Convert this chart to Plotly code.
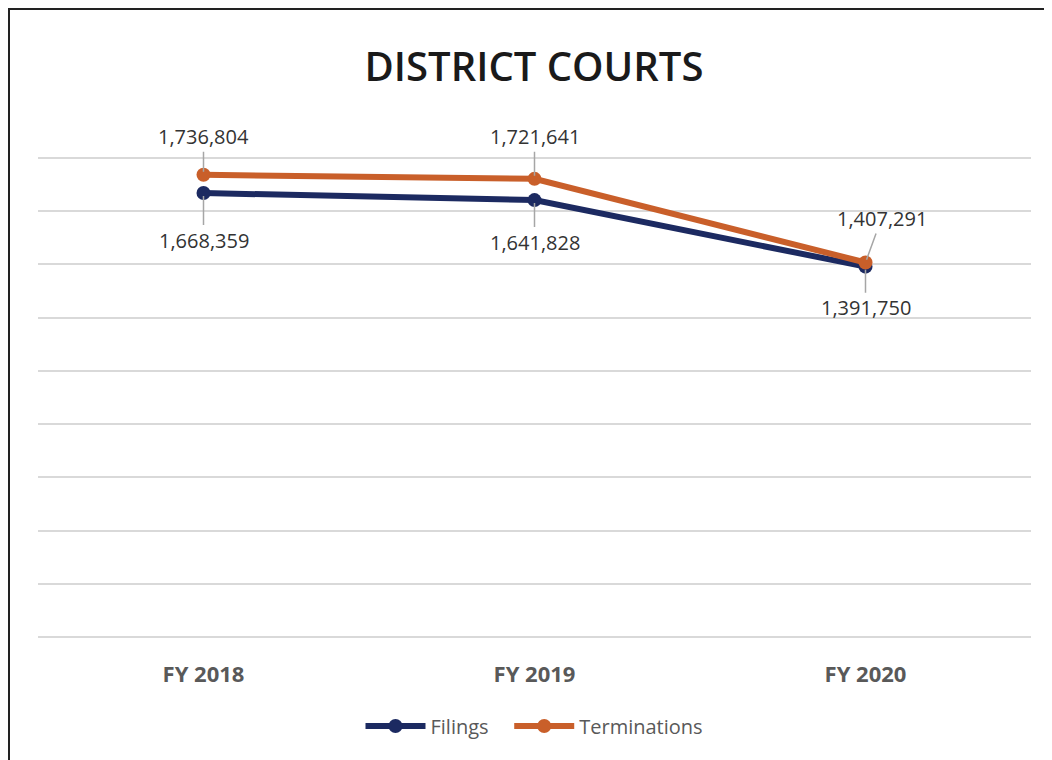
import plotly.graph_objects as go

categories = ["FY 2018", "FY 2019", "FY 2020"]
filings = [1668359, 1641828, 1391750]
terminations = [1736804, 1721641, 1407291]
series_names = ["Filings", "Terminations"]

NAVY = "#1c2a61"
ORANGE = "#c95f2a"
LABEL_FONT = dict(family="Open Sans", size=20, color="#333333")

fig = go.Figure()
fig.add_trace(go.Scatter(x=categories, y=filings, name=series_names[0] + "\u00a0\u00a0\u00a0", mode="lines+markers",
                         line=dict(color=NAVY, width=6), marker=dict(size=14, color=NAVY)))
fig.add_trace(go.Scatter(x=categories, y=terminations, name=series_names[1], mode="lines+markers",
                         line=dict(color=ORANGE, width=6), marker=dict(size=14, color=ORANGE)))

# data labels with leader lines
term_offsets = [(0, -38), (0, -42), (16, -44)]
fil_offsets = [(0, 47), (0, 42), (0, 41)]
for c, v, (ax, ay) in zip(categories, terminations, term_offsets):
    fig.add_annotation(x=c, y=v, text=f"{v:,}", showarrow=True, arrowhead=0, arrowwidth=1.5,
                       arrowcolor="#a6a6a6", ax=ax, ay=ay, standoff=3, font=LABEL_FONT)
for c, v, (ax, ay) in zip(categories, filings, fil_offsets):
    fig.add_annotation(x=c, y=v, text=f"{v:,}", showarrow=True, arrowhead=0, arrowwidth=1.5,
                       arrowcolor="#a6a6a6", ax=ax, ay=ay, standoff=3, font=LABEL_FONT)

Y_MAX = 1830000
plot_h = 479 * Y_MAX / 1800000
top_m = 629 - plot_h

# outer frame
fig.add_shape(type="rect", xref="paper", yref="paper", x0=-29 / 993, x1=1.06, y0=-0.3, y1=628 / plot_h,
              line=dict(color="#222222", width=2), fillcolor="rgba(0,0,0,0)", layer="above")

fig.update_layout(
    width=1052, height=760,
    margin=dict(l=30, r=29, t=top_m, b=131),
    paper_bgcolor="white", plot_bgcolor="white",
    title=dict(text="DISTRICT COURTS", x=0.5, xanchor="center", y=1 - 59 / 760, yanchor="middle",
               yref="container", font=dict(family="Open Sans", size=40, color="#1a1a1a", weight=600)),
    showlegend=True,
    legend=dict(orientation="h", x=0.5, xanchor="center", y=-89 / plot_h, yanchor="middle",
                font=dict(family="Open Sans", size=20, color="#595959"), itemwidth=60),
    xaxis=dict(range=[-0.5, 2.5], showgrid=False, zeroline=False, showline=False, ticks="",
               tickfont=dict(family="Open Sans", size=22, color="#595959", weight=700),
               ticklabelstandoff=22),
    yaxis=dict(range=[0, Y_MAX], dtick=200000, showticklabels=False, showgrid=True,
               gridcolor="#d9d9d9", gridwidth=2, zeroline=True, zerolinecolor="#d9d9d9",
               zerolinewidth=2, showline=False),
)

fig.write_html("out.html")
